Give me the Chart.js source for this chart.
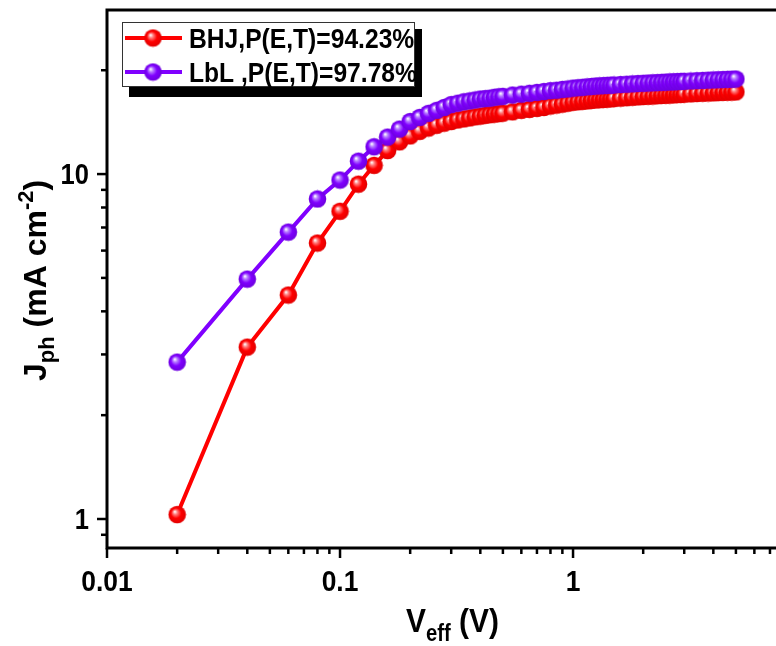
<!DOCTYPE html>
<html>
<head>
<meta charset="utf-8">
<script src="https://cdn.jsdelivr.net/npm/chart.js@4"></script>
<style>
  html, body { margin: 0; padding: 0; background: #fff; }
  #wrap { width: 776px; height: 646px; position: relative; }
</style>
</head>
<body>
<div id="wrap"><canvas id="jphChart" width="776" height="646"></canvas></div>
<script>
// effective voltage (V)
const vEff = [
  0.02, 0.04, 0.06, 0.08, 0.10, 0.12, 0.14, 0.16, 0.18, 0.20,
  0.22, 0.24, 0.26, 0.28, 0.30, 0.32, 0.34, 0.36, 0.38, 0.40,
  0.42, 0.44, 0.46, 0.48, 0.50, 0.55, 0.60, 0.65, 0.70, 0.75,
  0.80, 0.85, 0.90, 0.95, 1.00, 1.05, 1.10, 1.15, 1.20, 1.25,
  1.30, 1.35, 1.40, 1.45, 1.50, 1.6, 1.7, 1.8, 1.9, 2.0,
  2.1, 2.2, 2.3, 2.4, 2.5, 2.6, 2.7, 2.8, 2.9, 3.0,
  3.2, 3.4, 3.6, 3.8, 4.0, 4.2, 4.4, 4.6, 4.8, 5.0
];
// Jph (mA cm-2), BHJ device
const jphBHJ = [
  1.03, 3.15, 4.46, 6.31, 7.8, 9.35, 10.6, 11.7, 12.4, 12.9,
  13.3, 13.6, 13.85, 14.05, 14.2, 14.35, 14.45, 14.55, 14.65, 14.72,
  14.8, 14.86, 14.92, 14.97, 15.02, 15.15, 15.3, 15.4, 15.5, 15.6,
  15.75, 15.85, 15.95, 16.05, 16.15, 16.2, 16.25, 16.3, 16.35, 16.4,
  16.43, 16.46, 16.49, 16.52, 16.55, 16.6, 16.65, 16.7, 16.74, 16.78,
  16.81, 16.84, 16.87, 16.9, 16.92, 16.95, 16.97, 17.0, 17.02, 17.04,
  17.08, 17.12, 17.15, 17.18, 17.2, 17.23, 17.25, 17.27, 17.29, 17.31
];
// Jph (mA cm-2), LbL device
const jphLbL = [
  2.85, 4.96, 6.79, 8.47, 9.61, 10.9, 12.0, 12.8, 13.5, 14.2,
  14.6, 15.0, 15.3, 15.6, 15.9, 16.05, 16.2, 16.3, 16.4, 16.5,
  16.55, 16.6, 16.7, 16.75, 16.8, 16.95, 17.05, 17.15, 17.25, 17.35,
  17.45, 17.5, 17.6, 17.65, 17.75, 17.8, 17.85, 17.9, 17.95, 18.0,
  18.02, 18.05, 18.08, 18.1, 18.13, 18.18, 18.22, 18.26, 18.3, 18.33,
  18.36, 18.39, 18.42, 18.45, 18.47, 18.5, 18.52, 18.54, 18.56, 18.58,
  18.62, 18.66, 18.69, 18.72, 18.75, 18.77, 18.8, 18.82, 18.84, 18.86
];
const seriesNames = ['BHJ,P(E,T)=94.23%', 'LbL ,P(E,T)=97.78%'];

// axis ticks
const xTicks = [0.01, 0.02, 0.03, 0.04, 0.05, 0.06, 0.07, 0.08, 0.09,
  0.1, 0.2, 0.3, 0.4, 0.5, 0.6, 0.7, 0.8, 0.9, 1, 2, 3, 4, 5, 6, 7];
const xMajor = [0.01, 0.1, 1];
const xLabels = ['0.01', '0.1', '1'];
const yTicks = [0.9, 1, 2, 3, 4, 5, 6, 7, 8, 9, 10, 20];
const yMajor = [1, 10];
const yLabels = ['1', '10'];

const RED = '#ff0000';
const PURPLE = '#8000ff';
const FONT = '"Liberation Sans", Arial, sans-serif';
const SX = 0.88; // text in the picture is a bit narrow

// shaded ball used as point marker
function makeBall(base, light, dark) {
  const c = document.createElement('canvas');
  c.width = 19; c.height = 19;
  const g = c.getContext('2d');
  const grad = g.createRadialGradient(7, 6.5, 0.3, 9.5, 9.5, 9);
  grad.addColorStop(0, '#ffffff');
  grad.addColorStop(0.22, light);
  grad.addColorStop(0.55, base);
  grad.addColorStop(1, dark);
  g.fillStyle = grad;
  g.beginPath();
  g.arc(9.5, 9.5, 8.8, 0, Math.PI * 2);
  g.fill();
  return c;
}
const redBall = makeBall(RED, '#ff8080', '#e00000');
const purpleBall = makeBall(PURPLE, '#b880ff', '#6c00dd');

function drawText(ctx, s, x, y, size, align) {
  ctx.save();
  ctx.font = 'bold ' + size + 'px ' + FONT;
  ctx.textBaseline = 'alphabetic';
  ctx.textAlign = align || 'left';
  ctx.translate(x, y);
  ctx.scale(SX, 1);
  ctx.fillText(s, 0, 0);
  ctx.restore();
}
function textW(ctx, s, size) {
  ctx.font = 'bold ' + size + 'px ' + FONT;
  return ctx.measureText(s).width * SX;
}

// axes, ticks, labels, titles and legend
const framePlugin = {
  id: 'frame',
  afterDraw(chart) {
    const ctx = chart.ctx;
    const a = chart.chartArea;
    const xs = chart.scales.x, ys = chart.scales.y;
    ctx.save();
    ctx.strokeStyle = '#000';
    ctx.fillStyle = '#000';
    ctx.lineCap = 'butt';

    // ticks
    ctx.lineWidth = 2.5;
    xTicks.forEach(v => {
      const px = xs.getPixelForValue(v);
      const len = xMajor.includes(v) ? 10 : 6;
      ctx.beginPath(); ctx.moveTo(px, a.bottom); ctx.lineTo(px, a.bottom + len); ctx.stroke();
    });
    yTicks.forEach(v => {
      const py = ys.getPixelForValue(v);
      const len = yMajor.includes(v) ? 10 : 6;
      ctx.beginPath(); ctx.moveTo(a.left, py); ctx.lineTo(a.left - len, py); ctx.stroke();
    });

    // axis lines
    ctx.lineWidth = 3;
    ctx.beginPath();
    ctx.moveTo(a.left, a.top); ctx.lineTo(a.left, a.bottom + 1.5);
    ctx.moveTo(a.left - 1.5, a.bottom); ctx.lineTo(a.right, a.bottom);
    ctx.moveTo(a.left - 1.5, a.top); ctx.lineTo(a.right, a.top);
    ctx.stroke();

    // tick labels
    xMajor.forEach((v, i) => {
      drawText(ctx, xLabels[i], xs.getPixelForValue(v), a.bottom + 43, 30, 'center');
    });
    yMajor.forEach((v, i) => {
      drawText(ctx, yLabels[i], a.left - 18, ys.getPixelForValue(v) + 10, 29, 'right');
    });

    // x title: V_eff (V)
    let x = 406;
    drawText(ctx, 'V', x, 632, 34); x += textW(ctx, 'V', 34);
    drawText(ctx, 'eff', x, 641, 23); x += textW(ctx, 'eff', 23);
    drawText(ctx, ' (V)', x, 632, 34);

    // y title: J_ph (mA cm^-2)
    ctx.save();
    ctx.translate(46, 381);
    ctx.rotate(-Math.PI / 2);
    ctx.font = 'bold 32px ' + FONT;
    let u = 0;
    ctx.fillText('J', u, 0); u += ctx.measureText('J').width;
    ctx.font = 'bold 22px ' + FONT;
    ctx.fillText('ph', u, 8); u += ctx.measureText('ph').width;
    ctx.font = 'bold 32px ' + FONT;
    ctx.fillText(' (mA cm', u, 0); u += ctx.measureText(' (mA cm').width;
    ctx.font = 'bold 22px ' + FONT;
    ctx.fillText('-2', u, -13); u += ctx.measureText('-2').width;
    ctx.font = 'bold 32px ' + FONT;
    ctx.fillText(')', u, 0);
    ctx.restore();

    // legend box with drop shadow
    ctx.fillStyle = '#000';
    ctx.fillRect(129, 29, 293, 68);
    ctx.fillStyle = '#fff';
    ctx.fillRect(122, 22, 293, 65);
    ctx.lineWidth = 1;
    ctx.strokeStyle = '#333';
    ctx.strokeRect(122.5, 22.5, 292, 64);
    const rows = [[RED, redBall, 38], [PURPLE, purpleBall, 72]];
    rows.forEach((r, i) => {
      ctx.strokeStyle = r[0];
      ctx.lineWidth = 4;
      ctx.beginPath(); ctx.moveTo(125, r[2]); ctx.lineTo(182, r[2]); ctx.stroke();
      ctx.drawImage(r[1], 153 - 9.5, r[2] - 9.5);
      ctx.fillStyle = '#000';
      drawText(ctx, seriesNames[i], 189, r[2] + 10, 28);
    });
    ctx.restore();
  }
};

const ctx = document.getElementById('jphChart').getContext('2d');
const jphChart = new Chart(ctx, {
  type: 'line',
  data: {
    datasets: [
      {
        label: seriesNames[0],
        data: vEff.map((v, i) => ({ x: v, y: jphBHJ[i] })),
        borderColor: RED,
        borderWidth: 4,
        pointStyle: redBall,
        order: 1
      },
      {
        label: seriesNames[1],
        data: vEff.map((v, i) => ({ x: v, y: jphLbL[i] })),
        borderColor: PURPLE,
        borderWidth: 4,
        pointStyle: purpleBall,
        order: 0
      }
    ]
  },
  options: {
    responsive: false,
    animation: false,
    layout: { autoPadding: false, padding: { top: 10, right: 0, left: 0, bottom: 0 } },
    plugins: { legend: { display: false }, tooltip: { enabled: false } },
    scales: {
      x: {
        type: 'logarithmic',
        min: 0.01,
        max: 7.43,
        grid: { display: false },
        border: { display: false },
        ticks: { display: false },
        afterBuildTicks: s => { s.ticks = xTicks.map(v => ({ value: v })); },
        afterFit: s => { s.height = 98; }
      },
      y: {
        type: 'logarithmic',
        min: 0.824,
        max: 29.9,
        grid: { display: false },
        border: { display: false },
        ticks: { display: false },
        afterBuildTicks: s => { s.ticks = yTicks.map(v => ({ value: v })); },
        afterFit: s => { s.width = 107; }
      }
    }
  },
  plugins: [framePlugin]
});
</script>
</body>
</html>
